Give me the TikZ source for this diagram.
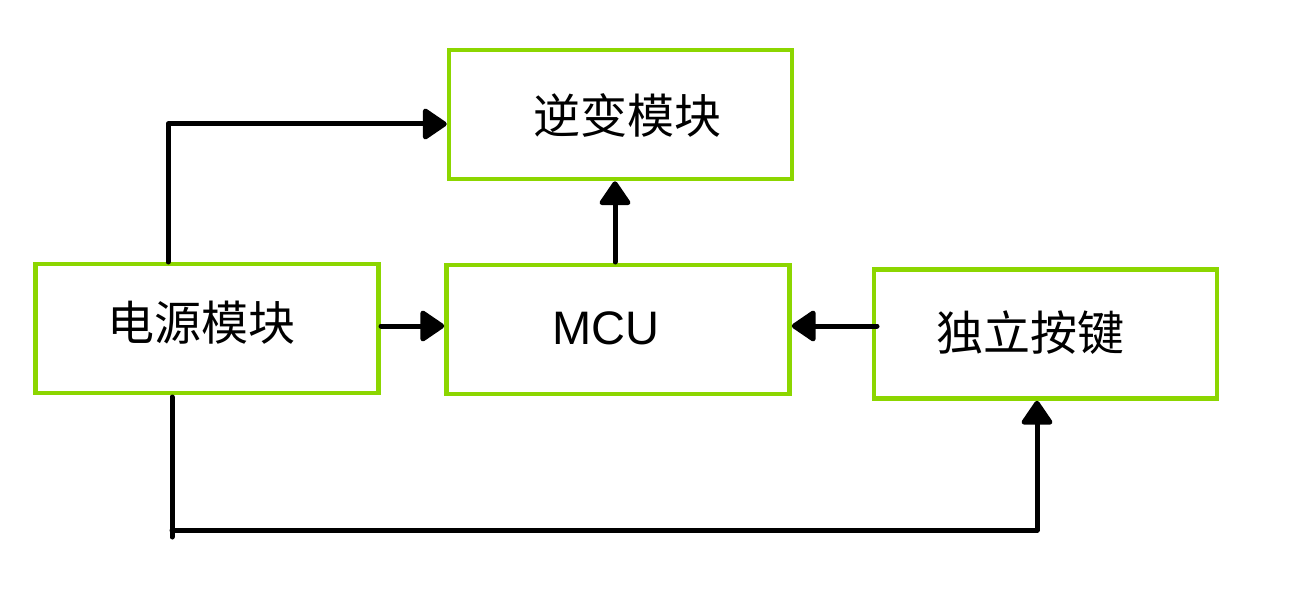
\documentclass[tikz,border=0pt]{standalone}
\usepackage{fontspec}
\setmainfont{Noto Sans CJK SC}
\newfontfamily\cjk{Noto Sans CJK SC}
\newfontfamily\latinsans{Liberation Sans}
\usetikzlibrary{arrows.meta}
\definecolor{boxgreen}{RGB}{140,214,0}
\tikzset{
  blk/.style={draw=boxgreen, line width=4.5pt, minimum width=343pt, minimum height=129pt, inner sep=0pt},
  lbl/.style={inner sep=0pt, font=\cjk\fontsize{47}{56}\selectfont},
  conn/.style={draw=black, line width=5pt, line cap=round, line join=round, -{Triangle[length=26pt,width=34pt,round]}},
  plain/.style={draw=black, line width=5pt, line cap=round, line join=round}
}
\begin{document}
\begin{tikzpicture}[x=1pt,y=-1pt]
\useasboundingbox (0,0) rectangle (1293,607);
\node[blk] (inv) at (620.5,114.5) {};
\node[lbl] (invt) at (627,115) {逆变模块};
\node[blk] (pwr) at (207,328.5) {};
\node[lbl] (pwrt) at (201,323) {电源模块};
\node[blk] (mcu) at (618,329.5) {};
\node[lbl, font=\latinsans\fontsize{47}{56}\selectfont] (mcut) at (606,328) {MCU};
\node[blk] (key) at (1045.5,334) {};
\node[lbl] (keyt) at (1030,333) {独立按键};
\coordinate (p1) at (168,262);
\coordinate (p2) at (168,124);
\draw[conn] (p1) -- (p2) -- (inv.west |- p2);
\coordinate (a1) at (381,326);
\draw[conn] (a1) -- (mcu.west |- a1);
\coordinate (b1) at (877,326);
\draw[conn] (b1) -- (mcu.east |- b1);
\coordinate (c1) at (615,262);
\draw[conn] (c1) -- (inv.south -| c1);
\coordinate (d1) at (172,397);
\coordinate (d2) at (172,537);
\coordinate (d3) at (172,530);
\coordinate (d4) at (1037,530);
\draw[plain] (d1) -- (d2);
\draw[conn] (d3) -- (d4) -- (key.south -| d4);
\end{tikzpicture}
\end{document}
